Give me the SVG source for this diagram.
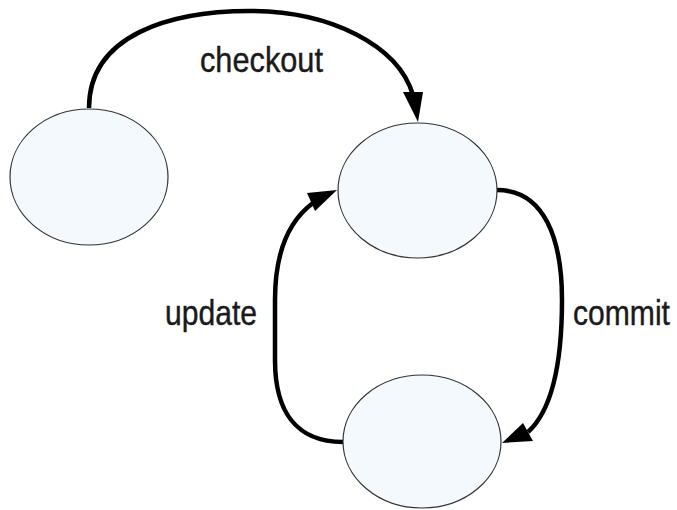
<svg xmlns="http://www.w3.org/2000/svg" width="677" height="510" viewBox="0 0 677 510">
<style>
.node{fill:#f4f9fe;stroke:#333;stroke-width:1.2}
.edge{fill:none;stroke:#000;stroke-width:4.5}
.head{fill:#000}
.lbl{font-family:"Liberation Sans",Arial,sans-serif;font-size:35px;fill:#1a1a1a;stroke:#1a1a1a;stroke-width:0.4}
</style>
<rect width="677" height="510" fill="#fff"/>
<g id="connectors">
<path class="edge" d="M 89 108 C 89 35, 170 11, 250 11 C 330 11, 398 45, 413 95"/>
<polygon class="head" points="418,122 403,92 423,92"/>
<path class="edge" d="M 343 442 C 295 442, 275 410, 275 360 L 275 300 C 275 250, 290 220, 313 203"/>
<polygon class="head" points="337,190 307,193 315,211"/>
<path class="edge" d="M 497 190 C 545 190, 562 240, 562 300 C 562 370, 550 412, 528 432"/>
<polygon class="head" points="502,443 523,423 533,441"/>
</g>
<g id="n1"><ellipse class="node" cx="89" cy="177" rx="79" ry="68"/></g>
<g id="n2"><ellipse class="node" cx="417.5" cy="190.5" rx="79.5" ry="67.5"/></g>
<g id="n3"><ellipse class="node" cx="422" cy="441.5" rx="79" ry="66.5"/></g>
<g id="labels">
<text class="lbl" transform="translate(200,72) scale(0.878,1)">checkout</text>
<text class="lbl" transform="translate(165,325) scale(0.86,1)">update</text>
<text class="lbl" transform="translate(573,325) scale(0.86,1)">commit</text>
</g>
</svg>
